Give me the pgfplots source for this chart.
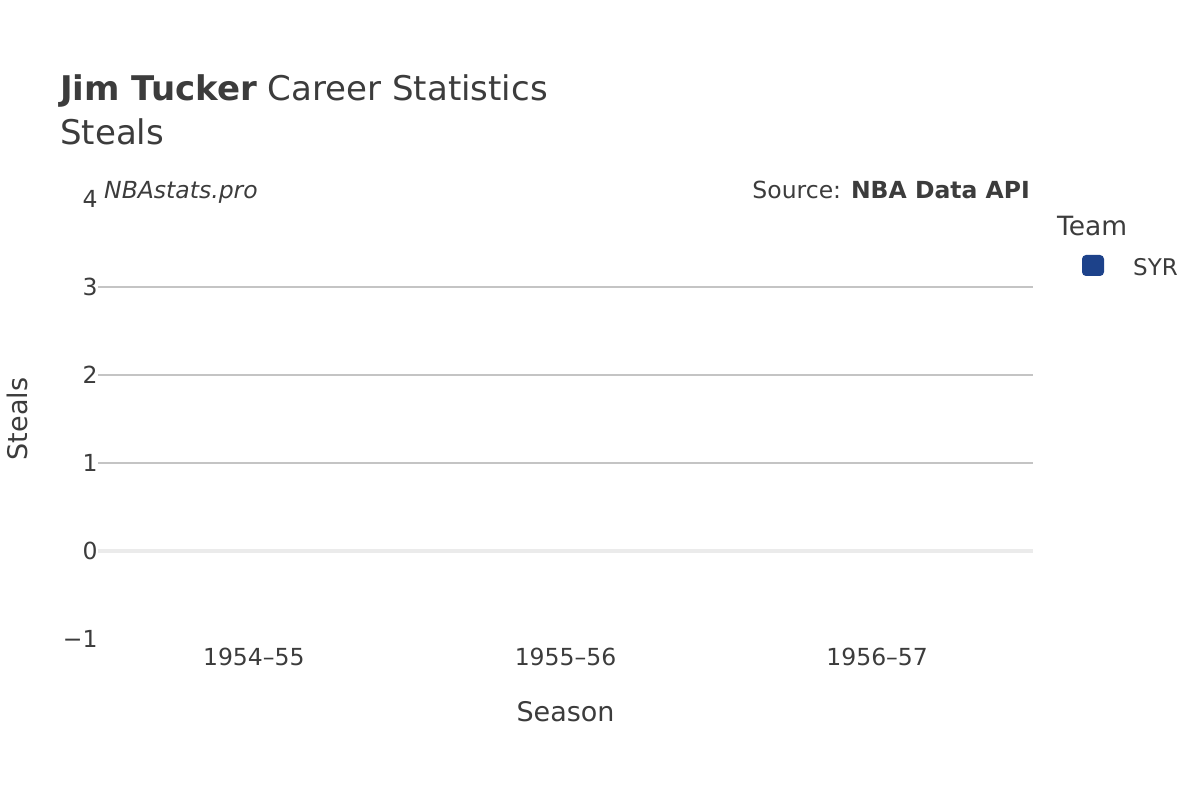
\documentclass[border=0pt]{standalone}
\usepackage{fontspec}
\setmainfont{DejaVu Sans}
\usepackage{pgfplots}
\pgfplotsset{compat=1.18}
\definecolor{txt}{HTML}{3C3C3C}
\definecolor{syr}{HTML}{1D428A}
\definecolor{gridc}{HTML}{C4C4C4}
\definecolor{zeroc}{HTML}{EBEBEB}
\begin{document}
\begin{tikzpicture}[x=1pt,y=1pt]
  % page frame, 1200 x 800 (image y measured from the top)
  \path[fill=white] (0,0) rectangle (1200,800);

  \begin{axis}[
      at={(98pt,161pt)}, anchor=south west,
      scale only axis,
      width=935pt, height=440pt,
      xmin=-0.5, xmax=2.5,
      ymin=-1, ymax=4,
      axis line style={draw=none},
      tick style={draw=none},
      xtick={0,1,2},
      xticklabels={1954--55,1955--56,1956--57},
      ytick={-1,0,1,2,3,4},
      yticklabels={−1,0,1,2,3,4},
      /pgf/number format/assume math mode=true,
      ticklabel style={font=\fontsize{23.5}{28}\selectfont, text=txt},
      xticklabel style={yshift=-6pt},
      yticklabel style={xshift=3pt},
      xlabel={Season},
      label style={font=\fontsize{27}{32}\selectfont, text=txt},
      xlabel style={at={(axis description cs:0.5,0)}, anchor=center, yshift=-73pt},
      clip=false,
    ]
    % grid lines
    \draw[gridc, line width=1.5pt] (axis cs:-0.5,1) -- (axis cs:2.5,1);
    \draw[gridc, line width=1.5pt] (axis cs:-0.5,2) -- (axis cs:2.5,2);
    \draw[gridc, line width=1.5pt] (axis cs:-0.5,3) -- (axis cs:2.5,3);
    \draw[zeroc, line width=4pt] (axis cs:-0.5,0) -- (axis cs:2.5,0);

    % SYR steals per season (all zero, so nothing shows)
    \addplot[ybar, bar width=250pt, fill=none, draw=none] coordinates {
      (0,0)
      (1,0)
      (2,0)
    };
  \end{axis}

  % y axis title
  \node[rotate=90, anchor=center, text=txt, inner sep=0pt, font=\fontsize{27}{32}\selectfont]
    at (17,381) {Steals};

  % titles
  \node[anchor=base west, text=txt, inner sep=0pt, font=\fontsize{34}{40}\selectfont]
    at (60,699) {\textbf{Jim Tucker} Career Statistics};
  \node[anchor=base west, text=txt, inner sep=0pt, font=\fontsize{34}{40}\selectfont]
    at (60,655) {Steals};

  % watermark and source
  \node[anchor=base west, text=txt, inner sep=0pt, font=\fontsize{23.5}{28}\selectfont\itshape]
    at (104,601) {NBAstats.pro};
  \node[anchor=base east, text=txt, inner sep=0pt, font=\fontsize{23.5}{28}\selectfont]
    at (1030,601) {Source: \textbf{NBA Data API}};

  % legend
  \node[anchor=base west, text=txt, inner sep=0pt, font=\fontsize{26.5}{31}\selectfont]
    at (1057,564) {Team};
  \fill[syr, rounded corners=4pt] (1082,524) rectangle (1104,545);
  \node[anchor=base west, text=txt, inner sep=0pt, font=\fontsize{23}{28}\selectfont]
    at (1133,524) {SYR};
\end{tikzpicture}
\end{document}
